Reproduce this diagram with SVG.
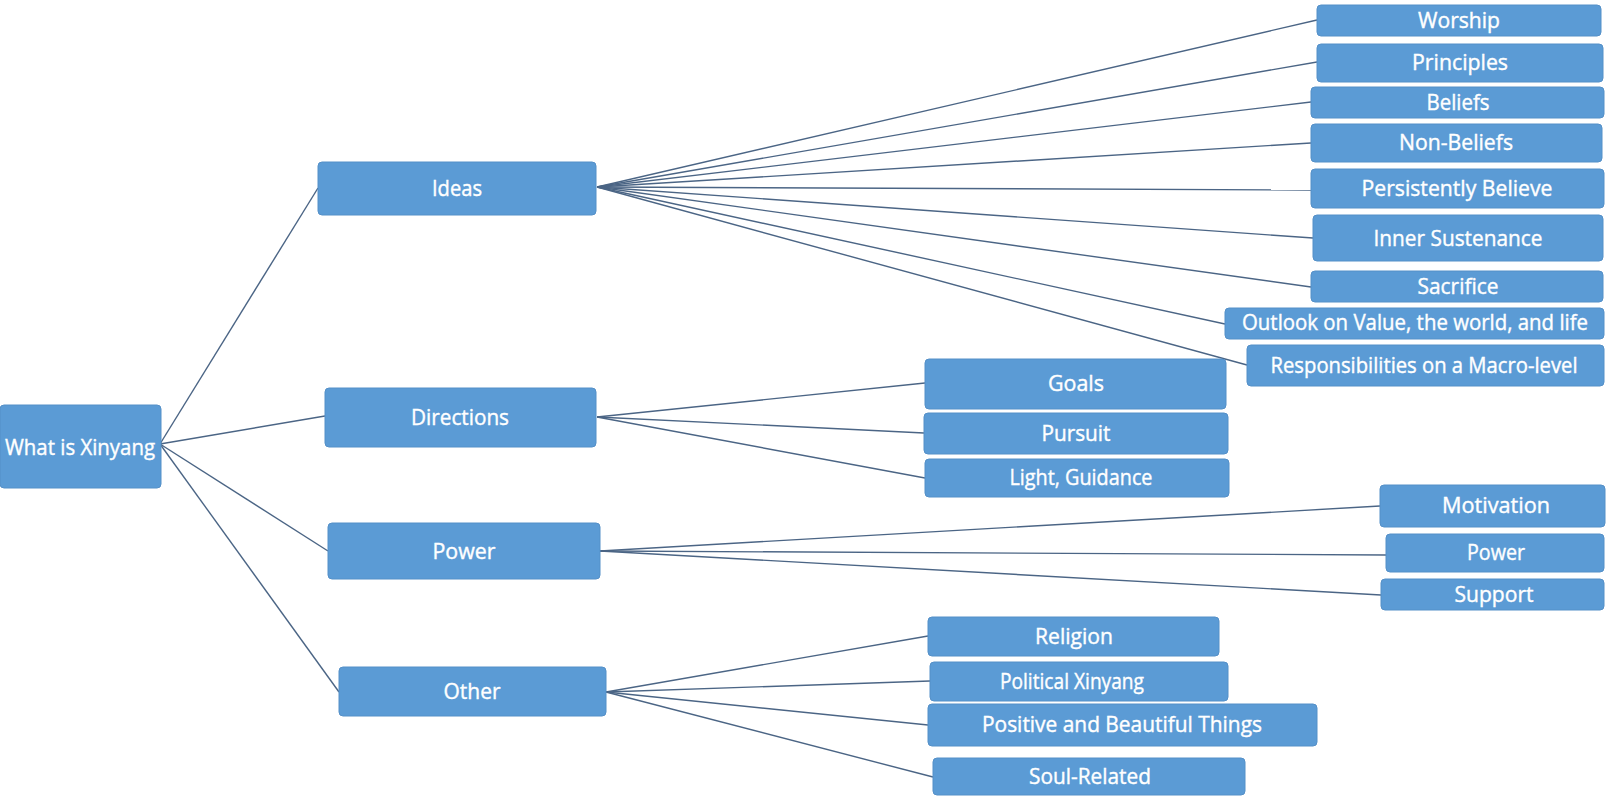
<svg xmlns="http://www.w3.org/2000/svg" width="1607" height="804" viewBox="0 0 1607 804">
<style>
.n rect{fill:#5b9bd5;stroke:#5590c8;stroke-width:1}
.n text{fill:#ffffff;stroke:#ffffff;stroke-width:0.4;font-family:"Open Sans","Liberation Sans",sans-serif;font-size:22px;text-anchor:middle}
.c line{stroke:#4b6585;stroke-width:1.4}
</style>
<rect width="1607" height="804" fill="#ffffff"/>
<g id="connectors" class="c">
<line x1="160" y1="444" x2="318" y2="188"/>
<line x1="160" y1="444" x2="325" y2="416"/>
<line x1="160" y1="444" x2="328" y2="551"/>
<line x1="160" y1="444" x2="339" y2="692"/>
<line x1="597" y1="187" x2="1317" y2="20"/>
<line x1="597" y1="187" x2="1317" y2="62"/>
<line x1="597" y1="187" x2="1311" y2="102"/>
<line x1="597" y1="187" x2="1311" y2="143"/>
<line x1="597" y1="187" x2="1311" y2="190"/>
<line x1="597" y1="187" x2="1313" y2="238"/>
<line x1="597" y1="187" x2="1311" y2="287"/>
<line x1="597" y1="187" x2="1225" y2="324"/>
<line x1="597" y1="187" x2="1247" y2="365"/>
<line x1="597" y1="417" x2="925" y2="383"/>
<line x1="597" y1="417" x2="924" y2="433"/>
<line x1="597" y1="417" x2="925" y2="478"/>
<line x1="600" y1="551" x2="1380" y2="506"/>
<line x1="600" y1="551" x2="1386" y2="555"/>
<line x1="600" y1="551" x2="1381" y2="595"/>
<line x1="606" y1="692" x2="928" y2="636"/>
<line x1="606" y1="692" x2="930" y2="681"/>
<line x1="606" y1="692" x2="928" y2="725"/>
<line x1="606" y1="692" x2="933" y2="777"/>
</g>
<g id="root" class="n"><rect x="0" y="405" width="161" height="83" rx="4"/><text x="80" y="455" textLength="150" lengthAdjust="spacingAndGlyphs">What is Xinyang</text></g>
<g id="ideas" class="n"><rect x="318" y="162" width="278" height="53" rx="4"/><text x="457" y="196" textLength="50" lengthAdjust="spacingAndGlyphs">Ideas</text></g>
<g id="directions" class="n"><rect x="325" y="388" width="271" height="59" rx="4"/><text x="460" y="425" textLength="98" lengthAdjust="spacingAndGlyphs">Directions</text></g>
<g id="power" class="n"><rect x="328" y="523" width="272" height="56" rx="4"/><text x="464" y="559" textLength="63" lengthAdjust="spacingAndGlyphs">Power</text></g>
<g id="other" class="n"><rect x="339" y="667" width="267" height="49" rx="4"/><text x="472" y="699" textLength="57" lengthAdjust="spacingAndGlyphs">Other</text></g>
<g id="worship" class="n"><rect x="1317" y="5" width="284" height="31" rx="4"/><text x="1459" y="28" textLength="82" lengthAdjust="spacingAndGlyphs">Worship</text></g>
<g id="principles" class="n"><rect x="1317" y="44" width="286" height="38" rx="4"/><text x="1460" y="70" textLength="96" lengthAdjust="spacingAndGlyphs">Principles</text></g>
<g id="beliefs" class="n"><rect x="1311" y="87" width="293" height="31" rx="4"/><text x="1458" y="110" textLength="63" lengthAdjust="spacingAndGlyphs">Beliefs</text></g>
<g id="nonbeliefs" class="n"><rect x="1311" y="124" width="291" height="38" rx="4"/><text x="1456" y="150" textLength="114" lengthAdjust="spacingAndGlyphs">Non-Beliefs</text></g>
<g id="persistently" class="n"><rect x="1311" y="169" width="293" height="39" rx="4"/><text x="1457" y="196" textLength="191" lengthAdjust="spacingAndGlyphs">Persistently Believe</text></g>
<g id="inner" class="n"><rect x="1313" y="215" width="290" height="46" rx="4"/><text x="1458" y="246" textLength="169" lengthAdjust="spacingAndGlyphs">Inner Sustenance</text></g>
<g id="sacrifice" class="n"><rect x="1311" y="271" width="292" height="31" rx="4"/><text x="1458" y="294" textLength="81" lengthAdjust="spacingAndGlyphs">Sacrifice</text></g>
<g id="outlook" class="n"><rect x="1225" y="308" width="379" height="31" rx="4"/><text x="1415" y="330" font-size="18.5" textLength="346" lengthAdjust="spacingAndGlyphs">Outlook on Value, the world, and life</text></g>
<g id="responsibilities" class="n"><rect x="1247" y="345" width="357" height="41" rx="4"/><text x="1424" y="373" textLength="307" lengthAdjust="spacingAndGlyphs">Responsibilities on a Macro-level</text></g>
<g id="goals" class="n"><rect x="925" y="359" width="301" height="50" rx="4"/><text x="1076" y="391" textLength="56" lengthAdjust="spacingAndGlyphs">Goals</text></g>
<g id="pursuit" class="n"><rect x="924" y="413" width="304" height="41" rx="4"/><text x="1076" y="441" textLength="69" lengthAdjust="spacingAndGlyphs">Pursuit</text></g>
<g id="light" class="n"><rect x="925" y="459" width="304" height="38" rx="4"/><text x="1081" y="485" textLength="143" lengthAdjust="spacingAndGlyphs">Light, Guidance</text></g>
<g id="motivation" class="n"><rect x="1380" y="485" width="225" height="42" rx="4"/><text x="1496" y="513" textLength="108" lengthAdjust="spacingAndGlyphs">Motivation</text></g>
<g id="power-child" class="n"><rect x="1386" y="534" width="218" height="38" rx="4"/><text x="1496" y="560" textLength="58" lengthAdjust="spacingAndGlyphs">Power</text></g>
<g id="support" class="n"><rect x="1381" y="579" width="223" height="31" rx="4"/><text x="1494" y="602" textLength="79" lengthAdjust="spacingAndGlyphs">Support</text></g>
<g id="religion" class="n"><rect x="928" y="617" width="291" height="39" rx="4"/><text x="1074" y="644" textLength="78" lengthAdjust="spacingAndGlyphs">Religion</text></g>
<g id="political" class="n"><rect x="930" y="662" width="298" height="39" rx="4"/><text x="1072" y="689" textLength="144" lengthAdjust="spacingAndGlyphs">Political Xinyang</text></g>
<g id="positive" class="n"><rect x="928" y="704" width="389" height="42" rx="4"/><text x="1122" y="732" textLength="280" lengthAdjust="spacingAndGlyphs">Positive and Beautiful Things</text></g>
<g id="soul" class="n"><rect x="933" y="758" width="312" height="37" rx="4"/><text x="1090" y="784" textLength="122" lengthAdjust="spacingAndGlyphs">Soul-Related</text></g>
</svg>
